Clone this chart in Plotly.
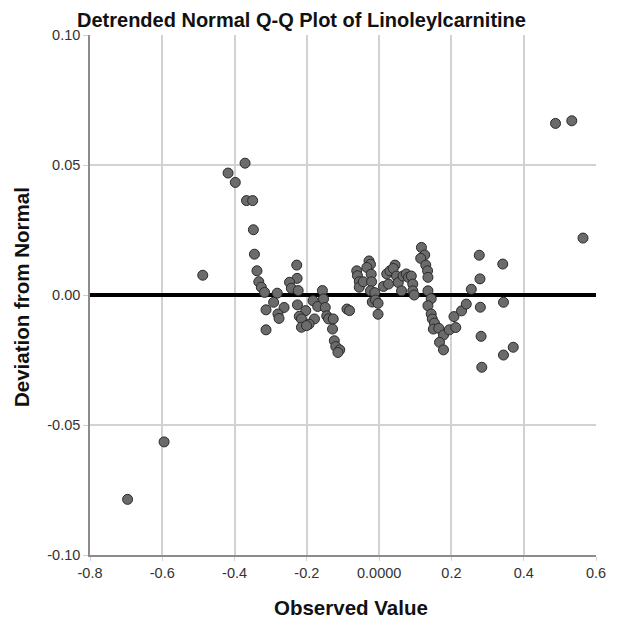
import plotly.graph_objects as go

observed = [
    -0.696, -0.595, -0.488,
    -0.371, -0.418, -0.398, -0.367, -0.350, -0.348, -0.345,
    -0.338, -0.333, -0.326, -0.317, -0.282, -0.292, -0.313, -0.263, -0.280, -0.277,
    -0.313, -0.228, -0.227, -0.248, -0.243, -0.224, -0.226, -0.203, -0.221, -0.215,
    -0.179, -0.194, -0.215, -0.201, -0.183, -0.170, -0.157, -0.154, -0.149, -0.145,
    -0.140, -0.127, -0.129, -0.124, -0.120, -0.109, -0.114, -0.089, -0.082,
    -0.062, -0.060, -0.055, -0.055, -0.044, -0.028, -0.024, -0.034, -0.022, -0.021,
    -0.024, -0.012, -0.019, -0.010, -0.003, -0.003, 0.012, 0.021, 0.030, 0.044,
    0.039, 0.026, 0.048, 0.053, 0.062, 0.066, 0.075, 0.081, 0.089, 0.093,
    0.093, 0.097, 0.117, 0.126, 0.115, 0.129, 0.134, 0.135, 0.135, 0.144,
    0.135, 0.144, 0.147, 0.153, 0.150, 0.165, 0.178, 0.167, 0.178, 0.194,
    0.212, 0.207, 0.228, 0.241, 0.255, 0.277, 0.279, 0.280, 0.282, 0.284,
    0.342, 0.344, 0.344, 0.371,
    0.488, 0.533, 0.564,
]
deviation = [
    -0.0786, -0.0565, 0.0076,
    0.0507, 0.0469, 0.0433, 0.0363, 0.0363, 0.0251, 0.0157,
    0.0093, 0.0051, 0.0030, 0.0010, 0.0007, -0.0028, -0.0057, -0.0048, -0.0073, -0.0090,
    -0.0134, 0.0115, 0.0064, 0.0049, 0.0026, 0.0017, -0.0038, -0.0060, -0.0082, -0.0092,
    -0.0092, -0.0112, -0.0124, -0.0118, -0.0022, -0.0044, 0.0017, -0.0015, -0.0048, -0.0080,
    -0.0092, -0.0092, -0.0131, -0.0176, -0.0198, -0.0211, -0.0221, -0.0054, -0.0060,
    0.0093, 0.0074, 0.0051, 0.0030, 0.0051, 0.0131, 0.0118, 0.0106, 0.0080, 0.0051,
    0.0016, 0.0009, -0.0027, -0.0019, -0.0032, -0.0074, 0.0033, 0.0081, 0.0093, 0.0115,
    0.0102, 0.0042, 0.0073, 0.0048, 0.0016, 0.0073, 0.0081, 0.0068, 0.0073, 0.0042,
    0.0016, 0.0000, 0.0183, 0.0154, 0.0141, 0.0115, 0.0093, 0.0068, 0.0016, -0.0014,
    -0.0041, -0.0073, -0.0092, -0.0108, -0.0131, -0.0128, -0.0154, -0.0182, -0.0211, -0.0134,
    -0.0125, -0.0083, -0.0061, -0.0035, 0.0022, 0.0153, 0.0062, -0.0047, -0.0159, -0.0278,
    0.0119, -0.0028, -0.0231, -0.0201,
    0.0660, 0.0670, 0.0219,
]

x_tickvals = [-0.8, -0.6, -0.4, -0.2, 0.0, 0.2, 0.4, 0.6]
x_ticktext = ["-0.8", "-0.6", "-0.4", "-0.2", "0.0000", "0.2", "0.4", "0.6"]
y_tickvals = [-0.10, -0.05, 0.00, 0.05, 0.10]
y_ticktext = ["-0.10", "-0.05", "0.00", "0.05", "0.10"]

FONT = "Liberation Sans, Arial, sans-serif"
GRID = "#d2d2d2"
# The page body has an 8px margin, so the figure is shrunk by 8px and all
# positions below are given in figure coordinates (window coordinates - 8).
W, H = 613, 615
L, R, T, B = 82, 25, 27, 68
PW, PH = W - L - R, H - T - B

fig = go.Figure()
fig.add_trace(go.Scatter(
    x=observed, y=deviation, mode="markers",
    marker=dict(size=10, color="#6b6b6b", line=dict(color="#2a2a2a", width=1)),
    hoverinfo="skip", showlegend=False,
))

fig.update_layout(
    width=W, height=H,
    margin=dict(l=L, r=R, t=T, b=B),
    paper_bgcolor="white", plot_bgcolor="white",
    font=dict(family=FONT, color="#222"),
    title=dict(
        text="<b>Detrended Normal Q-Q Plot of Linoleylcarnitine</b>",
        x=69 / W, xanchor="left", y=1 - 12 / H, yanchor="middle",
        font=dict(size=20, family=FONT, color="#111"),
    ),
    xaxis=dict(
        range=[-0.8, 0.6], tickvals=x_tickvals, ticktext=x_ticktext,
        showgrid=True, gridcolor=GRID, gridwidth=1.5,
        showline=True, linecolor="#8c8c8c", linewidth=1.5,
        ticks="outside", ticklen=4, tickcolor=GRID,
        zeroline=False, automargin=False,
        tickfont=dict(size=14.5, color="#333"),
    ),
    yaxis=dict(
        range=[-0.1, 0.1], tickvals=y_tickvals, ticktext=y_ticktext,
        showgrid=True, gridcolor=GRID, gridwidth=1.5,
        showline=True, linecolor="#8c8c8c", linewidth=1.5,
        ticks="outside", ticklen=5, tickcolor=GRID,
        zeroline=True, zerolinecolor="black", zerolinewidth=3.5,
        automargin=False,
        tickfont=dict(size=14.5, color="#333"),
    ),
    annotations=[
        dict(text="<b>Observed Value</b>", xref="paper", yref="paper",
             x=(343 - L) / PW, y=-(599 - (H - B)) / PH,
             xanchor="center", yanchor="middle", showarrow=False,
             font=dict(size=20.5, color="#111", family=FONT)),
        dict(text="<b>Deviation from Normal</b>", xref="paper", yref="paper",
             x=-(L - 13) / PW, y=(H - B - 289) / PH,
             xanchor="center", yanchor="middle", showarrow=False, textangle=-90,
             font=dict(size=20.5, color="#111", family=FONT)),
    ],
)

fig.write_html("out.html")
